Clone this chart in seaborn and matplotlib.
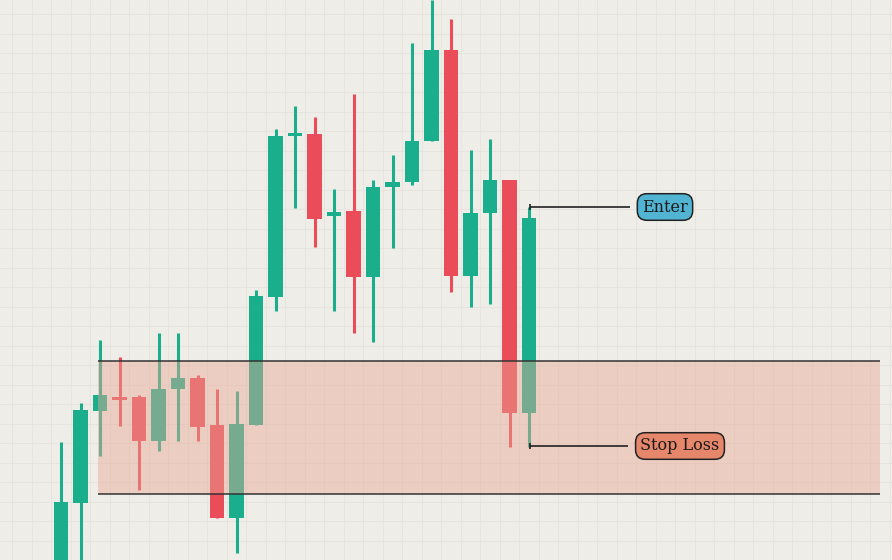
import matplotlib
matplotlib.use("Agg")
import matplotlib.pyplot as plt
import seaborn as sns
import numpy as np
import pandas as pd

H = 560
opens  = [580, 503, 411, 396, 397, 441, 389, 378, 425, 518, 425, 297, 134, 134, 216, 211, 277, 187, 182, 141, 50, 276, 213, 180, 413]
closes = [502, 410, 395, 398, 441, 389, 378, 427, 518, 424, 296, 136, 132, 219, 212, 277, 187, 182, 141, 50, 276, 213, 180, 413, 218]
highs  = [442, 403, 340, 357, 395, 333, 333, 375, 389, 391, 290, 129, 106, 117, 189, 94, 180, 155, 43, 0, 19, 150, 139, 180, 207]
lows   = [600, 600, 456, 426, 490, 451, 441, 441, 518, 553, 425, 311, 208, 247, 311, 333, 342, 248, 185, 141, 292, 307, 304, 447, 447]
zone_top, zone_bot = 361, 494
enter_level, stop_level = 207, 446

df = pd.DataFrame({"i": np.arange(len(opens)),
                   "open": [H - v for v in opens], "close": [H - v for v in closes],
                   "high": [H - v for v in highs], "low": [H - v for v in lows]})
df["up"] = df["close"] >= df["open"]

sns.set_theme(style="white")
fig = plt.figure(figsize=(8.92, 5.60), dpi=100)
ax = fig.add_axes([0, 0, 1, 1])
bg = "#efede8"
fig.patch.set_facecolor(bg); ax.set_facecolor(bg)
x0, dx = 61, 19.5
ax.set_xlim(-x0 / dx, (892 - x0) / dx)
ax.set_ylim(0, H)
for xv in np.arange(-3, 43, 1.0):
    ax.axvline(xv + 0.5, color="#e6e3de", lw=0.6, zorder=0)
for yv in np.arange(0, H, 19.5):
    ax.axhline(yv, color="#e6e3de", lw=0.6, zorder=0)

green, red = "#1aae8c", "#ea4c5a"
for _, r in df.iterrows():
    c = green if r.up else red
    ax.vlines(r.i, r.low, r.high, color=c, lw=2.2, zorder=2)
    lo, hi = min(r.open, r.close), max(r.open, r.close)
    ax.bar(r.i, max(hi - lo, 3), bottom=lo if hi - lo >= 3 else lo - 1.5, width=0.72,
           color=c, linewidth=0, zorder=3)

zx0 = (99 - x0) / dx - 0.05
zx1 = (880 - x0) / dx
ax.fill_between([zx0, zx1], H - zone_bot, H - zone_top, color="#e7a894", alpha=0.45, zorder=4, lw=0)
ax.hlines([H - zone_top, H - zone_bot], zx0, zx1, color="#333333", lw=1.1, zorder=5)

for lvl, txt, fc, lx, lend in [(enter_level, "Enter", "#52b4d3", 665, 630), (stop_level, "Stop Loss", "#e6866a", 680, 628)]:
    xs = 24 + 0.05
    ax.hlines(H - lvl, xs, (lend - x0) / dx, color="#222222", lw=1.2, zorder=5)
    ax.vlines(xs, H - lvl - 3, H - lvl + 3, color="#222222", lw=1.2, zorder=5)
    ax.text((lx - x0) / dx, H - lvl, txt, ha="center", va="center", fontsize=11.5,
            family="DejaVu Serif", color="#1a1a1a", zorder=6,
            bbox=dict(boxstyle="round,pad=0.3,rounding_size=0.6", fc=fc, ec="#222222", lw=1.1))

ax.axis("off")
fig.savefig("out.png", dpi=100, facecolor=bg)
